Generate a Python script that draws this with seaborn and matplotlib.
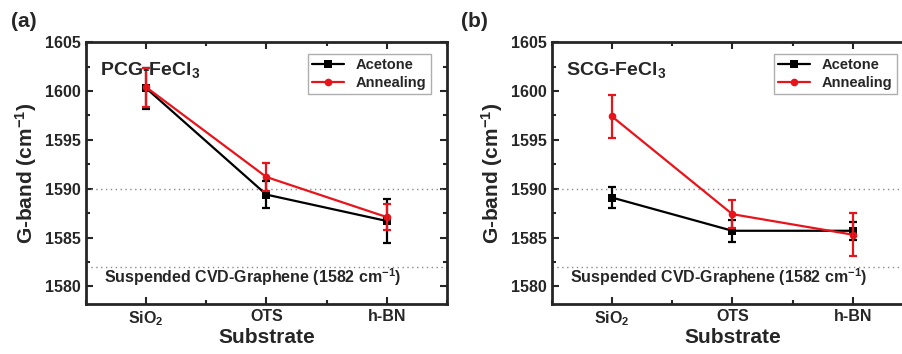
import numpy as np
import pandas as pd
import matplotlib
matplotlib.use('Agg')
import matplotlib.pyplot as plt
from matplotlib.ticker import MultipleLocator
import seaborn as sns

sns.set_style('ticks')
plt.rcParams['font.family'] = ['Liberation Sans', 'DejaVu Sans']
plt.rcParams['font.weight'] = 'bold'
plt.rcParams['mathtext.default'] = 'regular'

substrates = ['SiO$_2$', 'OTS', 'h-BN']
treatments = ['Acetone', 'Annealing']

# panel (a) PCG-FeCl3
pcg_acetone = [1600.3, 1589.4, 1586.7]
pcg_acetone_err = [2.1, 1.35, 2.2]
pcg_annealing = [1600.4, 1591.2, 1587.1]
pcg_annealing_err = [2.0, 1.4, 1.3]

# panel (b) SCG-FeCl3
scg_acetone = [1589.1, 1585.7, 1585.7]
scg_acetone_err = [1.1, 1.1, 0.9]
scg_annealing = [1597.4, 1587.4, 1585.3]
scg_annealing_err = [2.2, 1.4, 2.2]

ref_lines = [1590, 1582]

panels = [
    ('(a)', 'PCG-FeCl$_3$', pcg_acetone, pcg_acetone_err, pcg_annealing, pcg_annealing_err),
    ('(b)', 'SCG-FeCl$_3$', scg_acetone, scg_acetone_err, scg_annealing, scg_annealing_err),
]

colors = {'Acetone': 'black', 'Annealing': '#e8141b'}
markers = {'Acetone': 's', 'Annealing': 'o'}

fig = plt.figure(figsize=(9.03, 3.54), dpi=100)
lefts = [0.095, 0.611]
tag_x = [0.012, 0.511]

for i, (tag, name, ac, ac_err, an, an_err) in enumerate(panels):
    ax = fig.add_axes([lefts[i], 0.141, 0.40, 0.740])
    df = pd.DataFrame({
        'x': list(range(3)) * 2,
        'y': ac + an,
        'err': ac_err + an_err,
        'treatment': ['Acetone'] * 3 + ['Annealing'] * 3,
    })
    for y in ref_lines:
        ax.axhline(y, color='#8a8a8a', ls=(0, (1, 2.5)), lw=1, zorder=1)
    sns.lineplot(data=df, x='x', y='y', hue='treatment', style='treatment',
                 palette=colors, markers=markers, dashes=False,
                 markersize=5.5, lw=1.6, markeredgewidth=0, ax=ax, zorder=3)
    for t in treatments:
        sub = df[df['treatment'] == t]
        ax.errorbar(sub['x'], sub['y'], yerr=sub['err'], fmt='none',
                    ecolor=colors[t], elinewidth=1.6, capsize=3, capthick=1.6, zorder=3)

    ax.set_xlim(-0.5, 2.5)
    ax.set_ylim(1578.2, 1605)
    ax.set_xticks(range(3))
    ax.set_xticklabels(substrates)
    ax.xaxis.set_minor_locator(MultipleLocator(0.5))
    ax.yaxis.set_major_locator(MultipleLocator(5))
    ax.yaxis.set_minor_locator(MultipleLocator(2.5))
    ax.tick_params(which='both', direction='in', top=True, right=True, width=1.5,
                   labelsize=11.5)
    ax.tick_params(which='major', length=5)
    ax.tick_params(which='minor', length=3)
    for s in ax.spines.values():
        s.set_linewidth(2)
    ax.set_xlabel('Substrate', fontsize=15, fontweight='bold', labelpad=0)
    ax.set_ylabel('G-band (cm$^{-1}$)', fontsize=15, fontweight='bold', labelpad=4)

    ax.text(0.04, 0.93, name, transform=ax.transAxes, fontsize=14,
            fontweight='bold', va='top', ha='left')
    ax.text(0.05, 1581.0, 'Suspended CVD-Graphene (1582 cm$^{-1}$)',
            transform=ax.get_yaxis_transform(), fontsize=11.5, fontweight='bold',
            va='center', ha='left')
    ax.legend(title=None, loc='upper left', bbox_to_anchor=(0.615, 0.955),
              borderaxespad=0, fontsize=10.5, frameon=True, fancybox=False,
              edgecolor='#9a9a9a', borderpad=0.3, handlelength=2.2, labelspacing=0.25)
    fig.text(tag_x[i], 0.94, tag, fontsize=15, fontweight='bold',
             va='center', ha='left')

fig.savefig('out.png', dpi=100)
